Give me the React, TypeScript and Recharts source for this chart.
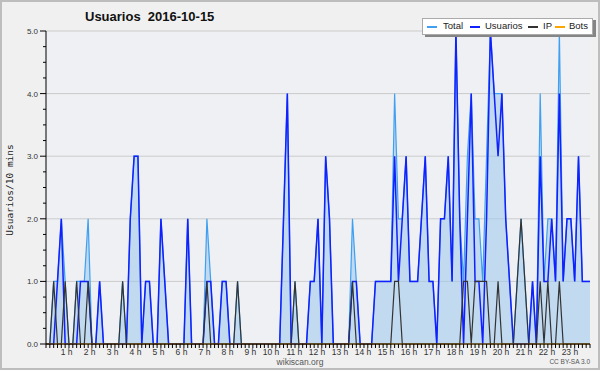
import { ComposedChart, Area, Line, XAxis, YAxis, CartesianGrid } from 'recharts'

// one value per 10-minute slot, 00:00 .. 23:50
const TOTAL = [
  0, 0, 1, 1, 2, 1, 0, 0, 1, 1,
  1, 2, 0, 0, 1, 0, 0, 0, 0, 0,
  1, 0, 2, 3, 3, 0, 1, 1, 0, 0,
  2, 1, 0, 0, 0, 0, 0, 2, 0, 0,
  0, 0, 2, 1, 0, 0, 1, 1, 0, 0,
  1, 0, 0, 0, 0, 0, 0, 0, 0, 0,
  0, 0, 2, 4, 0, 1, 0, 0, 0, 1,
  1, 2, 0, 3, 2, 0, 0, 0, 0, 0,
  2, 1, 0, 0, 0, 0, 1, 1, 1, 1,
  1, 4, 2, 2, 3, 1, 1, 1, 2, 3,
  1, 1, 0, 2, 2, 3, 1, 5, 2, 1,
  3, 4, 2, 2, 1, 3, 5, 4, 4, 4,
  2, 1, 0, 1, 2, 1, 0, 1, 0, 4,
  1, 2, 2, 1, 5, 1, 2, 2, 1, 3,
  1, 1, 1, 1,
]

const USUARIOS = [
  0, 0, 0, 1, 2, 0, 0, 0, 0, 1,
  1, 1, 0, 0, 1, 0, 0, 0, 0, 0,
  0, 0, 2, 3, 3, 0, 1, 1, 0, 0,
  2, 1, 0, 0, 0, 0, 0, 2, 0, 0,
  0, 0, 1, 1, 0, 0, 1, 1, 0, 0,
  0, 0, 0, 0, 0, 0, 0, 0, 0, 0,
  0, 0, 2, 4, 0, 0, 0, 0, 0, 1,
  1, 2, 0, 3, 2, 0, 0, 0, 0, 0,
  1, 1, 0, 0, 0, 0, 1, 1, 1, 1,
  1, 3, 1, 2, 3, 1, 1, 1, 2, 3,
  1, 1, 0, 2, 2, 3, 1, 5, 2, 0,
  2, 4, 1, 1, 0, 2, 5, 4, 3, 4,
  2, 1, 0, 0, 0, 0, 0, 1, 0, 3,
  1, 1, 2, 1, 4, 1, 2, 2, 1, 3,
  1, 1, 1, 1,
]

const IP = [
  0, 0, 1, 0, 0, 1, 0, 0, 1, 0,
  0, 1, 0, 0, 0, 0, 0, 0, 0, 0,
  1, 0, 0, 0, 0, 0, 0, 0, 0, 0,
  0, 0, 0, 0, 0, 0, 0, 0, 0, 0,
  0, 0, 1, 0, 0, 0, 0, 0, 0, 0,
  1, 0, 0, 0, 0, 0, 0, 0, 0, 0,
  0, 0, 0, 0, 0, 1, 0, 0, 0, 0,
  0, 0, 0, 0, 0, 0, 0, 0, 0, 0,
  1, 0, 0, 0, 0, 0, 0, 0, 0, 0,
  0, 1, 1, 0, 0, 0, 0, 0, 0, 0,
  0, 0, 0, 0, 0, 0, 0, 0, 0, 1,
  1, 0, 1, 1, 1, 1, 0, 0, 1, 0,
  0, 0, 0, 1, 2, 1, 0, 0, 0, 1,
  0, 1, 0, 0, 1, 0, 0, 0, 0, 0,
  0, 0, 0, 0,
]

const BOTS = [
  0, 0, 0, 0, 0, 0, 0, 0, 0, 0,
  0, 0, 0, 0, 0, 0, 0, 0, 0, 0,
  0, 0, 0, 0, 0, 0, 0, 0, 0, 0,
  0, 0, 0, 0, 0, 0, 0, 0, 0, 0,
  0, 0, 0, 0, 0, 0, 0, 0, 0, 0,
  0, 0, 0, 0, 0, 0, 0, 0, 0, 0,
  0, 0, 0, 0, 0, 0, 0, 0, 0, 0,
  0, 0, 0, 0, 0, 0, 0, 0, 0, 0,
  0, 0, 0, 0, 0, 0, 0, 0, 0, 0,
  0, 0, 0, 0, 0, 0, 0, 0, 0, 0,
  0, 0, 0, 0, 0, 0, 0, 0, 0, 0,
  0, 0, 0, 0, 0, 0, 0, 0, 0, 0,
  0, 0, 0, 0, 0, 0, 0, 0, 0, 0,
  0, 0, 0, 0, 0, 0, 0, 0, 0, 0,
  0, 0, 0, 0,
]

const HOURS = [
  '1 h', '2 h', '3 h', '4 h', '5 h', '6 h', '7 h', '8 h', '9 h', '10 h', '11 h', '12 h',
  '13 h', '14 h', '15 h', '16 h', '17 h', '18 h', '19 h', '20 h', '21 h', '22 h', '23 h',
]
const Y_TICKS = [0, 1, 2, 3, 4, 5]

// legend entries; left offsets of dash / label inside the legend box
const SERIES = [
  { key: 'total', name: 'Total', color: '#3f9ff0', dashX: 4, textX: 20 },
  { key: 'usuarios', name: 'Usuarios', color: '#1020ff', dashX: 47, textX: 62 },
  { key: 'ip', name: 'IP', color: '#333333', dashX: 105, textX: 120 },
  { key: 'bots', name: 'Bots', color: '#ffa500', dashX: 132, textX: 146 },
]

const data = TOTAL.map((total, slot) => ({
  slot,
  total,
  usuarios: USUARIOS[slot],
  ip: IP[slot],
  bots: BOTS[slot],
}))

// the plot shows slots 0..142, one small tick per slot
const X_MAX = 142
const xTicks = Array.from({ length: X_MAX + 1 }, (_, i) => i)
const yTicks = Array.from({ length: 21 }, (_, k) => k / 4)

const tickFont = 'Liberation Sans, Arial, sans-serif'

function XTick({ x, y, payload }: any) {
  const v = payload.value
  const label = v > 0 && v % 6 === 0 ? HOURS[v / 6 - 1] : null
  return (
    <g>
      <line x1={x} x2={x} y1={y} y2={y + 4} stroke="#000" strokeWidth={1} />
      {label && (
        <text x={x + 3.5} y={y + 10.5} textAnchor="end" fontSize={8.5} fill="#333" fontFamily={tickFont}>
          {label}
        </text>
      )}
    </g>
  )
}

function YTick({ x, y, payload }: any) {
  const v = payload.value
  const major = Number.isInteger(v)
  return (
    <g>
      <line x1={x - (major ? 6 : 3)} x2={x} y1={y} y2={y} stroke="#000" strokeWidth={1} />
      {major && (
        <text x={x - 8} y={y + 3} textAnchor="end" fontSize={8} fill="#333" fontFamily={tickFont}>
          {v.toFixed(1)}
        </text>
      )}
    </g>
  )
}

function LegendBox() {
  return (
    <div
      style={{
        position: 'absolute',
        left: 422,
        top: 18,
        width: 169,
        height: 15,
        background: '#fff',
        border: '1px solid #aaa',
        boxShadow: '3px 2px 0 #858585',
        fontFamily: tickFont,
        fontSize: 9.5,
        color: '#222',
      }}
    >
      {SERIES.map((s) => (
        <div key={s.key}>
          <span
            style={{ position: 'absolute', left: s.dashX, top: 7, width: 10, height: 1.5, background: s.color }}
          />
          <span style={{ position: 'absolute', left: s.textX, top: 1, lineHeight: '12px' }}>{s.name}</span>
        </div>
      ))}
    </div>
  )
}

export default function App() {
  return (
    <div style={{ position: 'relative', width: 600, height: 370, background: '#f0f0f0', overflow: 'hidden' }}>
      <style>{'body{margin:0}'}</style>
      <ComposedChart width={600} height={370} data={data} margin={{ top: 31, right: 10, bottom: 0, left: 0 }}>
        <CartesianGrid
          vertical={false}
          horizontalValues={Y_TICKS}
          stroke="#cbcbcb"
          fill="#eef0f3"
          fillOpacity={1}
        />
        <XAxis
          dataKey="slot"
          type="number"
          domain={[0, X_MAX]}
          allowDataOverflow
          ticks={xTicks}
          interval={0}
          tick={<XTick />}
          tickLine={false}
          tickSize={0}
          tickMargin={0}
          axisLine={{ stroke: '#000' }}
          height={26}
        />
        <YAxis
          type="number"
          domain={[0, 5]}
          ticks={yTicks}
          interval={0}
          tick={<YTick />}
          tickLine={false}
          tickSize={0}
          tickMargin={0}
          axisLine={{ stroke: '#000' }}
          width={46}
        />
        <Area
          type="linear"
          dataKey="total"
          stroke="#3f9ff0"
          strokeWidth={1.2}
          fill="#9cc8ed"
          fillOpacity={0.55}
          dot={false}
          activeDot={false}
          isAnimationActive={false}
        />
        <Line
          type="linear"
          dataKey="usuarios"
          stroke="#1020ff"
          strokeWidth={1.5}
          dot={false}
          activeDot={false}
          isAnimationActive={false}
        />
        <Line
          type="linear"
          dataKey="ip"
          stroke="#333333"
          strokeWidth={1.2}
          dot={false}
          activeDot={false}
          isAnimationActive={false}
        />
        <Line
          type="linear"
          dataKey="bots"
          stroke="#ffa500"
          strokeWidth={1}
          dot={false}
          activeDot={false}
          isAnimationActive={false}
        />
      </ComposedChart>

      <div
        style={{
          position: 'absolute',
          left: 85,
          top: 9,
          fontFamily: tickFont,
          fontWeight: 'bold',
          fontSize: 13,
          whiteSpace: 'pre',
          color: '#111',
        }}
      >
        {'Usuarios  2016-10-15'}
      </div>

      <div
        style={{
          position: 'absolute',
          left: 9,
          top: 190,
          transform: 'translate(-50%, -50%) rotate(-90deg)',
          fontFamily: 'DejaVu Sans Mono, monospace',
          fontSize: 9.5,
          whiteSpace: 'nowrap',
          color: '#222',
        }}
      >
        Usuarios/10 mins
      </div>

      <LegendBox />

      <div
        style={{
          position: 'absolute',
          left: 300,
          top: 357,
          transform: 'translateX(-50%)',
          fontFamily: tickFont,
          fontSize: 8.5,
          lineHeight: '10px',
          color: '#555',
        }}
      >
        wikiscan.org
      </div>
      <div
        style={{
          position: 'absolute',
          right: 10,
          top: 358,
          fontFamily: tickFont,
          fontSize: 6.5,
          lineHeight: '8px',
          color: '#555',
        }}
      >
        CC BY-SA 3.0
      </div>

      <div
        style={{
          position: 'absolute',
          inset: 0,
          border: '2px solid #bdbdbd',
          boxSizing: 'border-box',
          pointerEvents: 'none',
        }}
      />
    </div>
  )
}
